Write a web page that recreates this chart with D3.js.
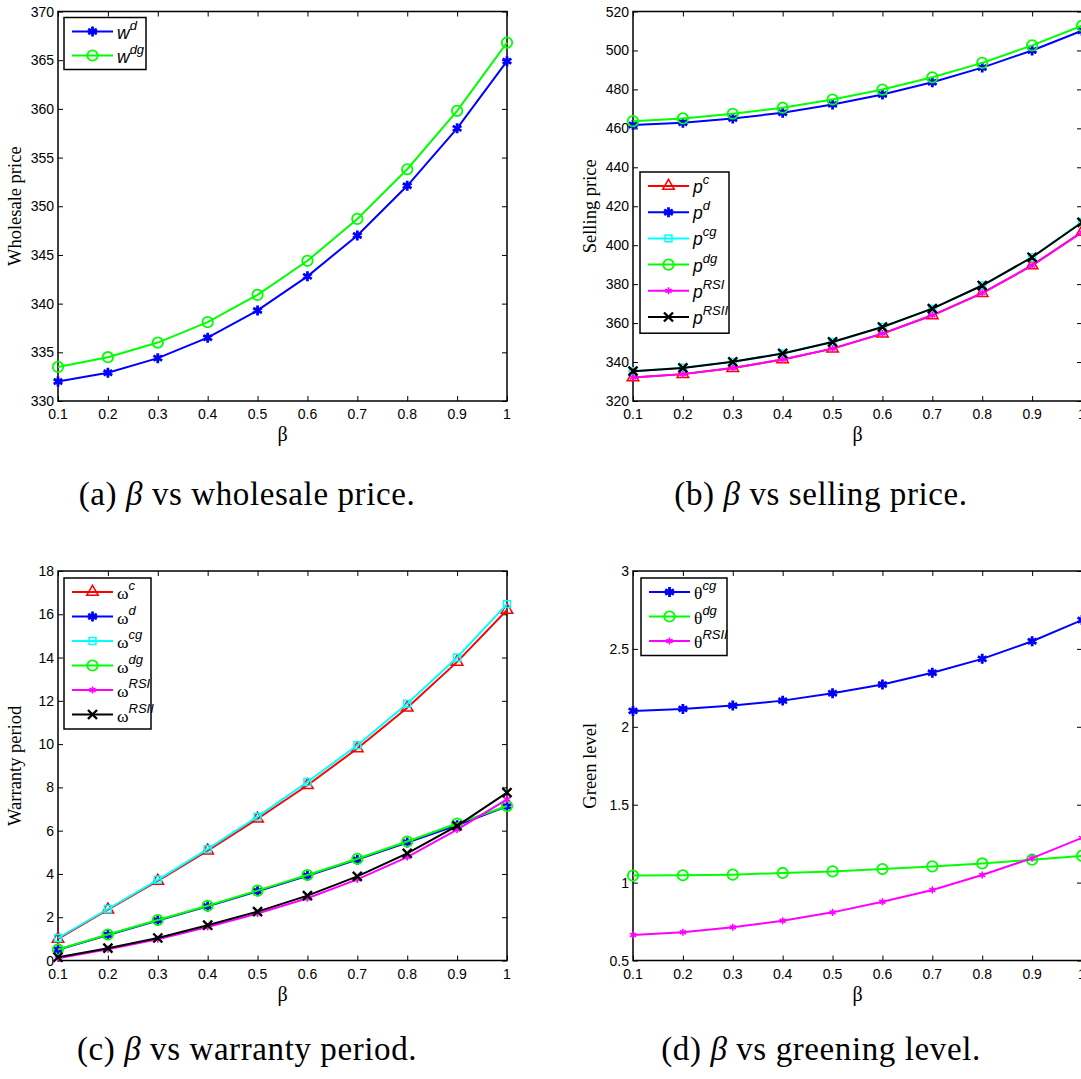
<!DOCTYPE html>
<html lang="en">
 <head>
 <meta charset="utf-8">
  <title>beta vs price, warranty and greening</title>
  <script type="text/javascript" src="https://cdn.jsdelivr.net/npm/d3@7/dist/d3.min.js"></script>
  <style>
    body { margin: 0; background: #fff; }
    svg { display: block; }
  </style>
 </head>
 <body>
  <script type="text/javascript">

    // x values shared by all four panels
    var beta = [0.1, 0.2, 0.3, 0.4, 0.5, 0.6, 0.7, 0.8, 0.9, 1];
    var betaLabels = ["0.1", "0.2", "0.3", "0.4", "0.5", "0.6", "0.7", "0.8", "0.9", "1"];

    // (a) wholesale price
    var wD  = [332.0, 332.9, 334.4, 336.5, 339.3, 342.8, 347.0, 352.1, 358.0, 364.9];
    var wDG = [333.5, 334.5, 336.0, 338.1, 340.9, 344.4, 348.7, 353.8, 359.8, 366.8];
    var wTicks = [330, 335, 340, 345, 350, 355, 360, 365, 370];

    // (b) selling price
    var pC    = [332.1, 333.8, 336.9, 341.3, 346.9, 354.6, 364.0, 375.4, 389.6, 406.8];
    var pD    = [461.7, 462.9, 465.1, 468.0, 472.3, 477.4, 483.7, 491.2, 500.0, 510.1];
    var pCG   = [335.3, 337.1, 340.1, 344.4, 350.3, 358.0, 367.4, 379.3, 393.8, 411.9];
    var pDG   = [463.7, 465.1, 467.5, 470.6, 474.8, 479.9, 486.2, 493.6, 502.6, 512.7];
    var pRSI  = [332.1, 333.8, 336.9, 341.3, 346.9, 354.6, 364.0, 375.4, 389.6, 406.6];
    var pRSII = [335.3, 337.0, 340.1, 344.4, 350.3, 358.0, 367.4, 379.3, 393.8, 411.7];
    var pTicks = [320, 340, 360, 380, 400, 420, 440, 460, 480, 500, 520];

    // (c) warranty period
    var omegaC    = [1.00, 2.35, 3.68, 5.08, 6.55, 8.10, 9.80, 11.68, 13.80, 16.20];
    var omegaD    = [0.50, 1.18, 1.85, 2.50, 3.20, 3.92, 4.66, 5.45, 6.25, 7.12];
    var omegaCG   = [1.04, 2.38, 3.73, 5.15, 6.65, 8.25, 9.95, 11.87, 14.00, 16.47];
    var omegaDG   = [0.51, 1.20, 1.87, 2.53, 3.23, 3.95, 4.70, 5.50, 6.33, 7.14];
    var omegaRSI  = [0.10, 0.52, 0.98, 1.55, 2.17, 2.88, 3.75, 4.78, 6.05, 7.45];
    var omegaRSII = [0.15, 0.57, 1.04, 1.63, 2.26, 3.00, 3.89, 4.95, 6.22, 7.76];
    var omegaTicks = [0, 2, 4, 6, 8, 10, 12, 14, 16, 18];

    // (d) greening level
    var thetaCG   = [2.102, 2.115, 2.136, 2.168, 2.215, 2.272, 2.347, 2.436, 2.549, 2.685];
    var thetaDG   = [1.045, 1.047, 1.051, 1.062, 1.072, 1.087, 1.104, 1.123, 1.147, 1.172];
    var thetaRSII = [0.664, 0.681, 0.713, 0.755, 0.809, 0.877, 0.953, 1.049, 1.157, 1.287];
    var thetaTicks = [0.5, 1, 1.5, 2, 2.5, 3];

    // marker styles, MATLAB-ish
    var markers = {
      triangle: { type: d3.symbolTriangle2, size: 95, width: 1.5 },
      star:     { type: d3.symbolAsterisk, size: 70, width: 2.8 },
      square:   { type: d3.symbolSquare2, size: 60, width: 1.5 },
      circle:   { type: d3.symbolCircle, size: 85, width: 1.8 },
      smallstar:{ type: d3.symbolAsterisk, size: 35, width: 1.6 },
      cross:    { type: d3.symbolTimes, size: 55, width: 2.4 }
    };

    var svg = d3.select("body").append("svg")
                .attr("width", 1081)
                .attr("height", 1079);

    function drawPanel(cfg) {
      var left = cfg.left, right = cfg.left + 449, top = cfg.top, bottom = cfg.top + 389.5;

      var x = d3.scaleLinear().domain([0.1, 1]).range([left, right]);
      var y = d3.scaleLinear().domain(cfg.domain).range([bottom, top]);

      var g = svg.append("g");

      // box
      g.append("rect")
       .attr("x", left).attr("y", top)
       .attr("width", right - left).attr("height", bottom - top)
       .attr("fill", "none").attr("stroke", "#000").attr("stroke-width", 1.5);

      // inward ticks on all four sides
      var bx = d3.axisBottom(x).tickValues(beta).tickSize(-5).tickFormat("");
      var tx = d3.axisTop(x).tickValues(beta).tickSize(-5).tickFormat("");
      var ly = d3.axisLeft(y).tickValues(cfg.ticks).tickSize(-5).tickFormat("");
      var ry = d3.axisRight(y).tickValues(cfg.ticks).tickSize(-5).tickFormat("");
      [[bx, "0," + bottom], [tx, "0," + top], [ly, left + ",0"], [ry, right + ",0"]].forEach(function (a) {
        var ax = g.append("g").attr("transform", "translate(" + a[1] + ")").call(a[0]);
        ax.select(".domain").remove();
        ax.selectAll("line").attr("stroke", "#000").attr("stroke-width", 1);
      });

      // tick labels
      g.selectAll(".xl").data(beta).enter().append("text")
       .attr("x", function (d) { return x(d); })
       .attr("y", bottom + 18)
       .attr("text-anchor", "middle")
       .attr("font-family", "Liberation Sans, Arial, sans-serif")
       .attr("font-size", 14)
       .text(function (d, i) { return betaLabels[i]; });

      g.selectAll(".yl").data(cfg.ticks).enter().append("text")
       .attr("x", left - 4)
       .attr("y", function (d) { return y(d) + 5; })
       .attr("text-anchor", "end")
       .attr("font-family", "Liberation Sans, Arial, sans-serif")
       .attr("font-size", 14)
       .text(function (d) { return d; });

      // axis titles
      g.append("text")
       .attr("x", (left + right) / 2).attr("y", bottom + 40)
       .attr("text-anchor", "middle")
       .attr("font-family", "Liberation Serif, serif")
       .attr("font-size", 20)
       .text("β");

      g.append("text")
       .attr("transform", "translate(" + (left - 37) + "," + (top + bottom) / 2 + ") rotate(-90)")
       .attr("text-anchor", "middle")
       .attr("font-family", "Liberation Serif, serif")
       .attr("font-size", 18.5)
       .text(cfg.ylabel);

      // series
      var line = d3.line().x(function (d, i) { return x(beta[i]); }).y(function (d) { return y(d); });

      cfg.series.forEach(function (s) {
        g.append("path").datum(s.values)
         .attr("d", line)
         .attr("fill", "none").attr("stroke", s.color).attr("stroke-width", 2);
        var m = markers[s.marker];
        g.selectAll(null).data(s.values).enter().append("path")
         .attr("transform", function (d, i) { return "translate(" + x(beta[i]) + "," + y(d) + ")"; })
         .attr("d", d3.symbol().type(m.type).size(m.size))
         .attr("fill", "none").attr("stroke", s.color).attr("stroke-width", m.width);
      });

      // legend
      var lx = left + cfg.legend[0], ly0 = top + cfg.legend[1];
      var rowH = cfg.legend[3];
      var lg = g.append("g");
      lg.append("rect")
       .attr("x", lx).attr("y", ly0)
       .attr("width", cfg.legend[2]).attr("height", cfg.series.length * rowH + 4)
       .attr("fill", "#fff").attr("stroke", "#000").attr("stroke-width", 1.5);

      cfg.series.forEach(function (s, i) {
        var cy = ly0 + 14 + i * rowH;
        lg.append("line")
          .attr("x1", lx + 8).attr("x2", lx + 49).attr("y1", cy).attr("y2", cy)
          .attr("stroke", s.color).attr("stroke-width", 2);
        var m = markers[s.marker];
        lg.append("path")
          .attr("transform", "translate(" + (lx + 28.5) + "," + cy + ")")
          .attr("d", d3.symbol().type(m.type).size(m.size))
          .attr("fill", "none").attr("stroke", s.color).attr("stroke-width", m.width);

        var t = lg.append("text")
          .attr("x", lx + 53).attr("y", cy + 7)
          .attr("font-size", 17.5);
        t.append("tspan")
         .attr("font-family", cfg.greek ? "Liberation Serif, serif" : "Liberation Sans, Arial, sans-serif")
         .attr("font-style", cfg.greek ? "normal" : "italic")
         .text(cfg.symbol);
        t.append("tspan")
         .attr("dy", -9)
         .attr("font-family", "Liberation Sans, Arial, sans-serif")
         .attr("font-style", "italic")
         .attr("font-size", 13)
         .text(s.sup);
      });

      // caption under the panel
      var cap = svg.append("text")
        .attr("x", cfg.capX).attr("y", bottom + cfg.capDy)
        .attr("text-anchor", "middle")
        .attr("font-family", "Liberation Serif, serif")
        .attr("font-size", 33)
        .attr("letter-spacing", 0.6);
      cap.append("tspan").text(cfg.caption[0] + " ");
      cap.append("tspan").attr("font-style", "italic").text("β");
      cap.append("tspan").text(" vs " + cfg.caption[1]);
    }

    drawPanel({
      left: 58, top: 11.5, domain: [330, 370], ticks: wTicks,
      ylabel: "Wholesale price", symbol: "w", greek: false,
      legend: [6, 6, 82, 24],
      capX: 247, capDy: 104, caption: ["(a)", "wholesale price."],
      series: [
        { values: wD,  color: "#0000ff", marker: "star",   sup: "d" },
        { values: wDG, color: "#00ff00", marker: "circle", sup: "dg" }
      ]
    });

    drawPanel({
      left: 633, top: 11.5, domain: [320, 520], ticks: pTicks,
      ylabel: "Selling price", symbol: "p", greek: false,
      legend: [7, 160.5, 89, 26.2],
      capX: 821, capDy: 104, caption: ["(b)", "selling price."],
      series: [
        { values: pC,    color: "#ff0000", marker: "triangle",  sup: "c" },
        { values: pD,    color: "#0000ff", marker: "star",      sup: "d" },
        { values: pCG,   color: "#00ffff", marker: "square",    sup: "cg" },
        { values: pDG,   color: "#00ff00", marker: "circle",    sup: "dg" },
        { values: pRSI,  color: "#ff00ff", marker: "smallstar", sup: "RSI" },
        { values: pRSII, color: "#000000", marker: "cross",     sup: "RSII" }
      ]
    });

    drawPanel({
      left: 58, top: 571, domain: [0, 18], ticks: omegaTicks,
      ylabel: "Warranty period", symbol: "ω", greek: true,
      legend: [6, 7, 87, 24.5],
      capX: 247, capDy: 99, caption: ["(c)", "warranty period."],
      series: [
        { values: omegaC,    color: "#ff0000", marker: "triangle",  sup: "c" },
        { values: omegaD,    color: "#0000ff", marker: "star",      sup: "d" },
        { values: omegaCG,   color: "#00ffff", marker: "square",    sup: "cg" },
        { values: omegaDG,   color: "#00ff00", marker: "circle",    sup: "dg" },
        { values: omegaRSI,  color: "#ff00ff", marker: "smallstar", sup: "RSI" },
        { values: omegaRSII, color: "#000000", marker: "cross",     sup: "RSII" }
      ]
    });

    drawPanel({
      left: 633, top: 571, domain: [0.5, 3], ticks: thetaTicks,
      ylabel: "Green level", symbol: "θ", greek: true,
      legend: [8, 7, 86, 24.5],
      capX: 821, capDy: 99, caption: ["(d)", "greening level."],
      series: [
        { values: thetaCG,   color: "#0000ff", marker: "star",      sup: "cg" },
        { values: thetaDG,   color: "#00ff00", marker: "circle",    sup: "dg" },
        { values: thetaRSII, color: "#ff00ff", marker: "smallstar", sup: "RSII" }
      ]
    });

  </script>
 </body>
</html>
